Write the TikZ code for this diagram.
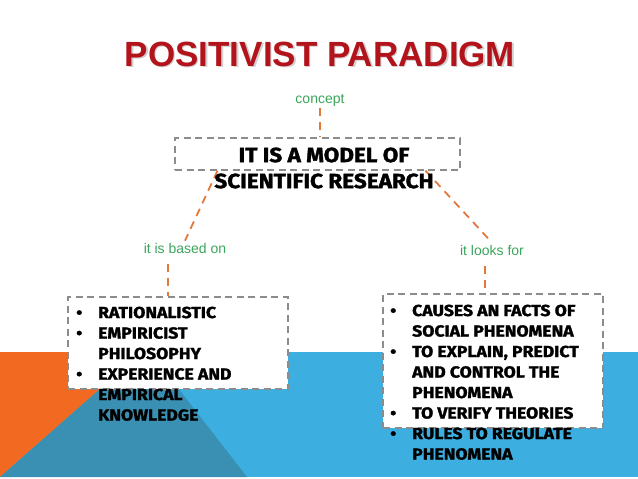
\documentclass[tikz,border=0pt]{standalone}
\usepackage{fontspec}
\setmainfont{Fira Sans}
\newfontfamily\arialfont{Liberation Sans}
\newfontfamily\chunkfont{Fira Sans}[BoldFeatures={FakeBold=1.6, FakeStretch=1.1}]
\usepackage{xcolor}
\usepackage{tikz}
\usetikzlibrary{positioning, calc}
\definecolor{titlered}{HTML}{B3141C}
\definecolor{linkorange}{HTML}{E2793A}
\definecolor{labelgreen}{HTML}{3BA55C}
\definecolor{boxgray}{HTML}{8C8C8C}
\definecolor{bandblue}{HTML}{3CAEDF}
\definecolor{bandteal}{HTML}{3A90B3}
\definecolor{bandorange}{HTML}{F26A21}
\tikzset{
  dashbox/.style={
    draw=boxgray,
    line width=1.4pt,
    dash pattern=on 7pt off 4.5pt,
    fill=white,
    inner sep=0pt
  },
  link/.style={
    draw=linkorange,
    line width=1.8pt,
    dash pattern=on 8pt off 6pt
  },
  relation/.style={
    font=\arialfont\fontsize{14}{16}\selectfont,
    text=labelgreen,
    inner sep=2pt
  },
  bulletlist/.style={
    font=\chunkfont\bfseries\fontsize{16}{20.5}\selectfont,
    inner sep=0pt, anchor=north west, align=left
  }
}

\begin{document}
\begin{tikzpicture}[x=1pt, y=-1pt,
  headline/.style={font=\arialfont\bfseries\fontsize{35}{40}\selectfont, inner sep=0pt},
  modeltxt/.style={font=\chunkfont\bfseries\fontsize{20.5}{26}\selectfont, align=center, inner sep=0pt}]

  \useasboundingbox (0,0) rectangle (638,479);

  % Background band
  \fill[white] (0,0) rectangle (638,479);
  \fill[bandblue] (0,352) rectangle (638,477);
  \fill[bandorange] (0,352) -- (142,352) -- (0,477) -- cycle;
  \fill[bandteal] (0,477) -- (142,352) -- (150,352) -- (247,477) -- cycle;

  % Title
  \node[headline, text=black!18] (titleshadow) at (321.5,55.5) {POSITIVIST PARADIGM};
  \node[headline, text=titlered] (title) at (320,54) {POSITIVIST PARADIGM};

  % Central concept
  \node[relation] (concept) at (320,100) {concept};
  \node[dashbox, minimum width=285pt, minimum height=32pt] (model) at (317.5,154) {};
  \draw[link] (concept.south) -- (concept.south |- model.north);

  % Relations
  \node[relation] (based) at (185,248) {it is based on};
  \node[relation] (looks) at (492,250) {it looks for};
  \draw[link] ([xshift=-100pt]model.south) -- (based.north);
  \draw[link] ([xshift=108pt]model.south) -- (looks.north);
  \node[modeltxt] (modeltext) at (324,168) {IT IS A MODEL OF\\SCIENTIFIC RESEARCH};

  % Left box
  \node[dashbox, minimum width=220pt, minimum height=92pt] (basis) at (178,343) {};
  \draw[link] ([xshift=-17pt, yshift=-9pt]based.south) coordinate (b1) -- (b1 |- basis.north);
  \node[bulletlist] (basistext) at (76,303.5) {%
    \begin{tabular}{@{}p{22pt}@{}l@{}}
      \textbullet & RATIONALISTIC\\
      \textbullet & EMPIRICIST\\
                  & PHILOSOPHY\\
      \textbullet & EXPERIENCE AND\\
                  & EMPIRICAL\\
                  & KNOWLEDGE
    \end{tabular}};

  % Right box
  \node[dashbox, minimum width=220pt, minimum height=134pt] (aims) at (493,361) {};
  \draw[link] ([xshift=-7pt, yshift=-9pt]looks.south) coordinate (l1) -- (l1 |- aims.north);
  \node[bulletlist] (aimstext) at (390,301.5) {%
    \begin{tabular}{@{}p{22pt}@{}l@{}}
      \textbullet & CAUSES AN FACTS OF\\
                  & SOCIAL PHENOMENA\\
      \textbullet & TO EXPLAIN, PREDICT\\
                  & AND CONTROL THE\\
                  & PHENOMENA\\
      \textbullet & TO VERIFY THEORIES\\
      \textbullet & RULES TO REGULATE\\
                  & PHENOMENA
    \end{tabular}};

\end{tikzpicture}
\end{document}
